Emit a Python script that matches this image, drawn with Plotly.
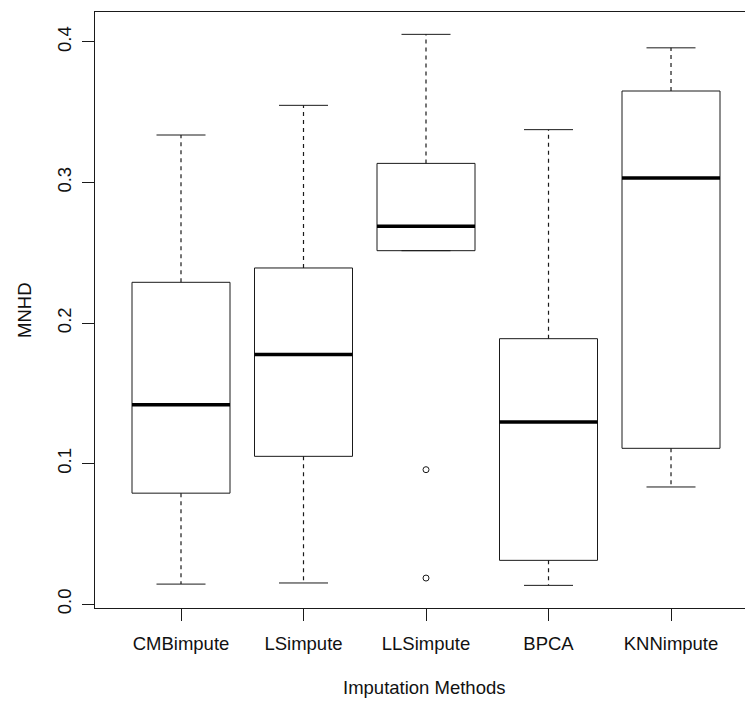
import plotly.graph_objects as go

methods = ["CMBimpute", "LSimpute", "LLSimpute", "BPCA", "KNNimpute"]
lower_whisker = [0.0143, 0.0151, 0.2515, 0.0134, 0.0834]
q1 = [0.0790, 0.1052, 0.2515, 0.0312, 0.1109]
median = [0.1419, 0.1777, 0.2688, 0.1296, 0.3032]
q3 = [0.2290, 0.2392, 0.3136, 0.1889, 0.3651]
upper_whisker = [0.3338, 0.3549, 0.4054, 0.3376, 0.3958]
outlier_method = [3, 3]
outlier_value = [0.0957, 0.0186]

y_ticks = [0.0, 0.1, 0.2, 0.3, 0.4]
y_tick_labels = ["0.0", "0.1", "0.2", "0.3", "0.4"]

HALF = 0.4   # box half-width (boxwex 0.8)
CAP = 0.2    # staple half-width

box_x, box_y = [], []
med_x, med_y = [], []
wh_x, wh_y = [], []
cap_x, cap_y = [], []
for i in range(len(methods)):
    x = i + 1
    box_x += [x - HALF, x + HALF, x + HALF, x - HALF, x - HALF, None]
    box_y += [q1[i], q1[i], q3[i], q3[i], q1[i], None]
    med_x += [x - HALF, x + HALF, None]
    med_y += [median[i], median[i], None]
    if upper_whisker[i] > q3[i]:
        wh_x += [x, x, None]
        wh_y += [q3[i], upper_whisker[i], None]
    if lower_whisker[i] < q1[i]:
        wh_x += [x, x, None]
        wh_y += [q1[i], lower_whisker[i], None]
    cap_x += [x - CAP, x + CAP, None, x - CAP, x + CAP, None]
    cap_y += [upper_whisker[i], upper_whisker[i], None, lower_whisker[i], lower_whisker[i], None]

line_col = "#1a1a1a"
fig = go.Figure()
fig.add_trace(go.Scatter(x=wh_x, y=wh_y, mode="lines",
                         line=dict(color=line_col, width=1.2, dash="4px,4px"), hoverinfo="skip"))
fig.add_trace(go.Scatter(x=cap_x, y=cap_y, mode="lines",
                         line=dict(color=line_col, width=1), hoverinfo="skip"))
fig.add_trace(go.Scatter(x=box_x, y=box_y, mode="lines",
                         line=dict(color=line_col, width=1), hoverinfo="skip"))
fig.add_trace(go.Scatter(x=med_x, y=med_y, mode="lines",
                         line=dict(color="black", width=3.5), hoverinfo="skip"))
fig.add_trace(go.Scatter(x=outlier_method, y=outlier_value, mode="markers",
                         marker=dict(symbol="circle-open", size=6, color=line_col,
                                     line=dict(width=1, color=line_col)),
                         hoverinfo="skip"))

font_family = "Liberation Sans, Arial, sans-serif"
fig.update_layout(
    width=745, height=704,
    margin=dict(l=95, r=0, t=12, b=96),
    plot_bgcolor="white", paper_bgcolor="white",
    showlegend=False,
    font=dict(family=font_family, size=18, color="#111"),
    xaxis=dict(range=[0.298, 5.604], tickmode="array",
               tickvals=list(range(1, len(methods) + 1)), ticktext=methods,
               ticks="outside", ticklen=12, tickwidth=1, tickcolor=line_col,
               showline=True, linecolor=line_col, linewidth=1, mirror=True,
               showgrid=False, zeroline=False, ticklabelstandoff=7,
               tickfont=dict(size=18.5)),
    yaxis=dict(range=[-0.0027, 0.4213], tickmode="array",
               tickvals=y_ticks, ticktext=y_tick_labels, tickangle=-90,
               ticks="outside", ticklen=12, tickwidth=1, tickcolor=line_col,
               showline=True, linecolor=line_col, linewidth=1, mirror=False,
               showgrid=False, zeroline=False, ticklabelstandoff=4,
               tickfont=dict(size=18.5)),
    annotations=[
        dict(text="Imputation Methods", xref="paper", yref="paper",
             x=(424 - 95) / 650, y=0, yshift=-(687 - 608), showarrow=False,
             font=dict(size=18.5), xanchor="center", yanchor="middle"),
        dict(text="MNHD", xref="paper", yref="paper", x=0, xshift=-(95 - 24),
             y=0.5, textangle=-90, showarrow=False,
             font=dict(size=18.5), xanchor="center", yanchor="middle"),
    ],
)

fig.write_html("out.html")
